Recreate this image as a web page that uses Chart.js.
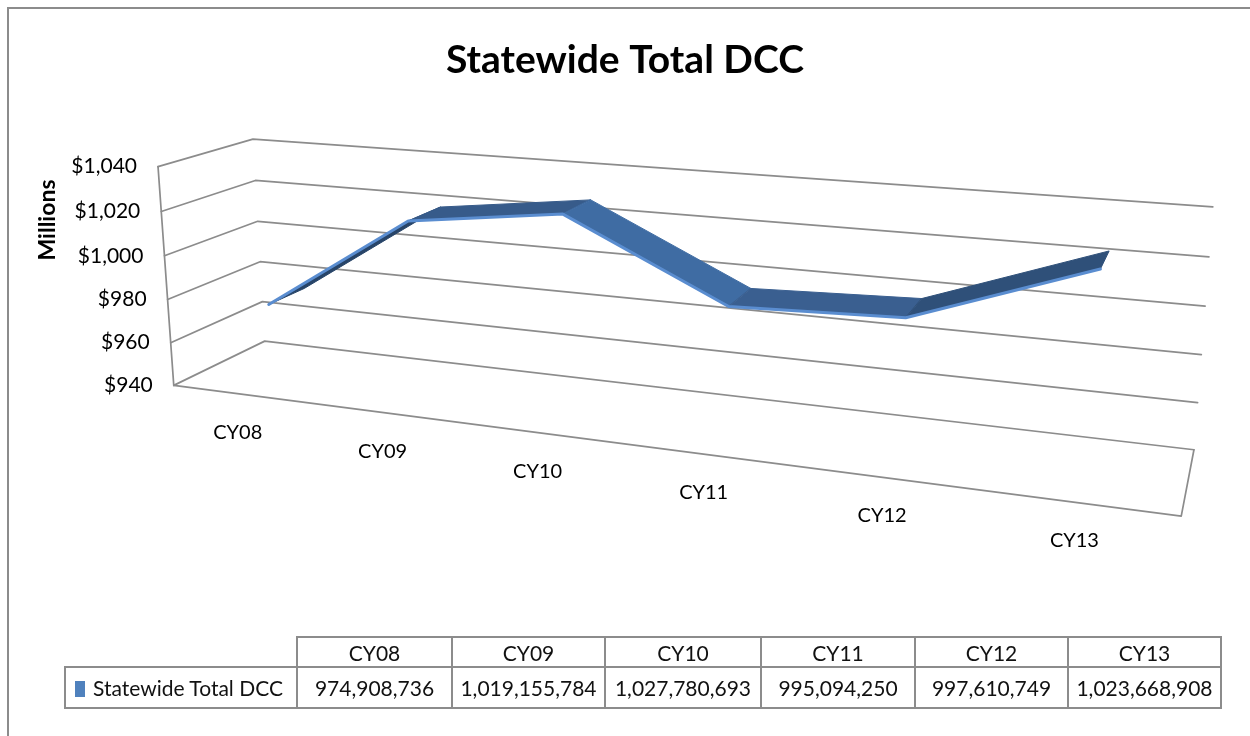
<!DOCTYPE html>
<html>
<head>
<meta charset="utf-8">
<script src="https://cdn.jsdelivr.net/npm/chart.js@4.4.1/dist/chart.umd.min.js"></script>
<style>
html,body{margin:0;padding:0;background:#fff;width:1250px;height:736px;overflow:hidden;}
#frame{position:absolute;left:7px;top:7px;width:1270px;height:760px;border-left:2px solid #8c8c8c;border-top:2px solid #8c8c8c;box-sizing:border-box;}
#wrap{position:absolute;left:0;top:0;width:1250px;height:736px;}
#tbl{position:absolute;left:64px;top:636px;border-collapse:collapse;font-family:Lato,"Open Sans",sans-serif;font-size:21px;color:#111;table-layout:fixed;width:1156px;}
#tbl td{border:2px solid #8c8c8c;text-align:center;padding:0;white-space:nowrap;overflow:hidden;}
#tbl td.blank{border:none;}
#tbl td.leg{text-align:left;padding-left:9px;}
#tbl .sw{display:inline-block;width:10px;height:16px;background:#4f81bd;margin-right:8px;vertical-align:-1px;}
</style>
</head>
<body>
<div id="frame"></div>
<div id="wrap"><canvas id="c"></canvas></div>
<table id="tbl"></table>
<script>
// ---- data ----
const categories = ['CY08', 'CY09', 'CY10', 'CY11', 'CY12', 'CY13'];
const seriesName = 'Statewide Total DCC';
const dccValues = [974908736, 1019155784, 1027780693, 995094250, 997610749, 1023668908];
const yMin = 940;
const yMax = 1040;
const yStep = 20;
const chartTitle = 'Statewide Total DCC';
const yAxisTitle = 'Millions';

// ---- layout: screen positions of the 3D box corners (u: categories, v: value, w: depth) ----
const boxRefs = [
  [0,1,0,157,167],[0,.8,0,163,211],[0,.6,0,165,255],[0,.4,0,167,300],[0,.2,0,171,342],[0,0,0,173,386],
  [0,1,1,253,139],[0,.8,1,255,181],[0,.6,1,257,221],[0,.4,1,260,262],[0,.2,1,263,302],[0,0,1,265,341],
  [1,1,1,1213,207],[1,.8,1,1209,257],[1,.6,1,1205,306],[1,.4,1,1201,355],[1,.2,1,1198,402],[1,0,1,1194,449],
  [1,0,0,1181,517]
];
const ribbonFront = 0.33, ribbonBack = 0.74;
const gridColor = '#8c8c8c';
const fontFamily = 'Lato, "Open Sans", sans-serif';

function fitCamera(refs){
  const S = 600, cx = 600, cy = 300;
  const rows = [], rhs = [];
  for (const [X,Y,Z,px,py] of refs){
    const x = (px-cx)/S, y = (py-cy)/S;
    rows.push([X,Y,Z,1,0,0,0,0,-x*X,-x*Y,-x*Z]); rhs.push(x);
    rows.push([0,0,0,0,X,Y,Z,1,-y*X,-y*Y,-y*Z]); rhs.push(y);
  }
  const n = 11;
  const M = Array.from({length:n},()=>new Array(n+1).fill(0));
  for (let r=0;r<rows.length;r++){
    for (let i=0;i<n;i++){
      for (let j=0;j<n;j++) M[i][j]+=rows[r][i]*rows[r][j];
      M[i][n]+=rows[r][i]*rhs[r];
    }
  }
  for (let c=0;c<n;c++){
    let p=c; for (let r=c+1;r<n;r++) if (Math.abs(M[r][c])>Math.abs(M[p][c])) p=r;
    [M[c],M[p]]=[M[p],M[c]];
    for (let r=0;r<n;r++){ if (r===c) continue; const f=M[r][c]/M[c][c]; for (let k=c;k<=n;k++) M[r][k]-=f*M[c][k]; }
  }
  const p = M.map((row,i)=>row[n]/row[i]);
  return (u,v,w)=>{
    const d = p[8]*u+p[9]*v+p[10]*w+1;
    const x = (p[0]*u+p[1]*v+p[2]*w+p[3])/d;
    const y = (p[4]*u+p[5]*v+p[6]*w+p[7])/d;
    return {x:x*S+cx, y:y*S+cy};
  };
}
const project = fitCamera(boxRefs);

function mix(a,b,t){ return 'rgb('+a.map((c,i)=>Math.round(c+(b[i]-c)*t)).join(',')+')'; }
function shade(s){
  const base=[59,97,146], light=[63,108,163], dark=[38,66,102];
  return s<=0 ? mix(base,light,Math.min(1,-s/2)) : mix(base,dark,Math.min(1,s/2.8));
}

const box3d = {
  id:'box3d',
  afterDatasetsDraw(chart){
    const ctx = chart.ctx, ca = chart.chartArea;
    const xs = chart.scales.x, ys = chart.scales.y;
    const U = px => (px-ca.left)/(ca.right-ca.left);
    const V = py => (ca.bottom-py)/(ca.bottom-ca.top);
    const line = (a,b)=>{ ctx.beginPath(); ctx.moveTo(a.x,a.y); ctx.lineTo(b.x,b.y); ctx.stroke(); };
    ctx.save();
    ctx.strokeStyle = gridColor; ctx.lineWidth = 1.7; ctx.lineCap='round'; ctx.lineJoin='round';
    // walls
    ys.ticks.forEach(t=>{
      const v = V(ys.getPixelForValue(t.value));
      const a = project(0,v,0), b = project(0,v,1), c = project(1,v,1);
      ctx.beginPath(); ctx.moveTo(a.x,a.y); ctx.lineTo(b.x,b.y); ctx.lineTo(c.x,c.y); ctx.stroke();
    });
    line(project(0,0,0), project(0,1,0));
    ctx.beginPath();
    const f0=project(0,0,0), f1=project(1,0,0), f2=project(1,0,1);
    ctx.moveTo(f0.x,f0.y); ctx.lineTo(f1.x,f1.y); ctx.lineTo(f2.x,f2.y); ctx.stroke();

    // y tick labels
    ctx.fillStyle='#000'; ctx.font = '21px '+fontFamily; ctx.textAlign='right'; ctx.textBaseline='middle';
    ys.ticks.forEach(t=>{
      const v = V(ys.getPixelForValue(t.value));
      const a = project(0,v,0);
      ctx.fillText('$'+t.value.toLocaleString('en-US'), a.x-21, a.y);
    });
    // category labels
    ctx.font = '20px '+fontFamily; ctx.textAlign='center';
    xs.getLabels().forEach((lab,i)=>{
      const a = project(U(xs.getPixelForValue(i)),0,0);
      ctx.fillText(lab, a.x-5, a.y+38);
    });
    // axis title
    ctx.save();
    ctx.translate(48,220); ctx.rotate(-Math.PI/2);
    ctx.font = 'bold 23px '+fontFamily; ctx.textAlign='center'; ctx.textBaseline='middle';
    ctx.fillText(yAxisTitle,0,0);
    ctx.restore();

    // ribbon
    const meta = chart.getDatasetMeta(0);
    const pts = meta.data.map(e=>({u:U(e.x), v:V(e.y)}));
    for (let i=0;i<pts.length-1;i++){
      const a=pts[i], b=pts[i+1];
      const s=(b.v-a.v)/(b.u-a.u);
      const p1=project(a.u,a.v,ribbonFront), p2=project(b.u,b.v,ribbonFront), p3=project(b.u,b.v,ribbonBack), p4=project(a.u,a.v,ribbonBack);
      ctx.fillStyle = shade(s); ctx.strokeStyle = shade(s); ctx.lineWidth=1;
      ctx.beginPath(); ctx.moveTo(p1.x,p1.y); ctx.lineTo(p2.x,p2.y); ctx.lineTo(p3.x,p3.y); ctx.lineTo(p4.x,p4.y); ctx.closePath();
      ctx.fill(); ctx.stroke();
    }
    ctx.strokeStyle = '#5a8dd0'; ctx.lineWidth = 3; ctx.lineJoin='round';
    ctx.beginPath();
    pts.forEach((p,i)=>{ const q=project(p.u,p.v,ribbonFront); if(i===0) ctx.moveTo(q.x,q.y); else ctx.lineTo(q.x,q.y); });
    ctx.stroke();
    ctx.restore();
  }
};

new Chart(document.getElementById('c'), {
  type:'line',
  data:{
    labels: categories,
    datasets:[{
      label: seriesName,
      data: dccValues.map(v=>v/1e6),
      borderColor:'rgba(0,0,0,0)',
      backgroundColor:'#4f81bd',
      pointRadius:0,
      borderWidth:0
    }]
  },
  options:{
    responsive:true, maintainAspectRatio:false, animation:false,
    layout:{padding:{left:60,right:60,top:10,bottom:150}},
    plugins:{
      legend:{display:false}, tooltip:{enabled:false},
      title:{display:true, text:chartTitle, color:'#000', font:{family:fontFamily, size:39, weight:'bold'}, padding:{top:27,bottom:20}}
    },
    scales:{
      x:{type:'category', offset:true, display:false},
      y:{type:'linear', min:yMin, max:yMax, ticks:{stepSize:yStep}, display:false}
    }
  },
  plugins:[box3d]
});

// data table
const tbl = document.getElementById('tbl');
const colW = [232,155,153,156,154,153,153];
const cg = document.createElement('colgroup');
colW.forEach(w=>{ const c=document.createElement('col'); c.style.width=w+'px'; cg.appendChild(c); });
tbl.appendChild(cg);
const tr1 = document.createElement('tr'); tr1.style.height='30px';
const blank = document.createElement('td'); blank.className='blank'; tr1.appendChild(blank);
categories.forEach(c=>{ const td=document.createElement('td'); td.textContent=c; tr1.appendChild(td); });
tbl.appendChild(tr1);
const tr2 = document.createElement('tr'); tr2.style.height='41px';
const leg = document.createElement('td'); leg.className='leg';
leg.innerHTML = '<span class="sw"></span>'; leg.appendChild(document.createTextNode(seriesName));
tr2.appendChild(leg);
dccValues.forEach(v=>{ const td=document.createElement('td'); td.textContent=v.toLocaleString('en-US'); tr2.appendChild(td); });
tbl.appendChild(tr2);
</script>
</body>
</html>
